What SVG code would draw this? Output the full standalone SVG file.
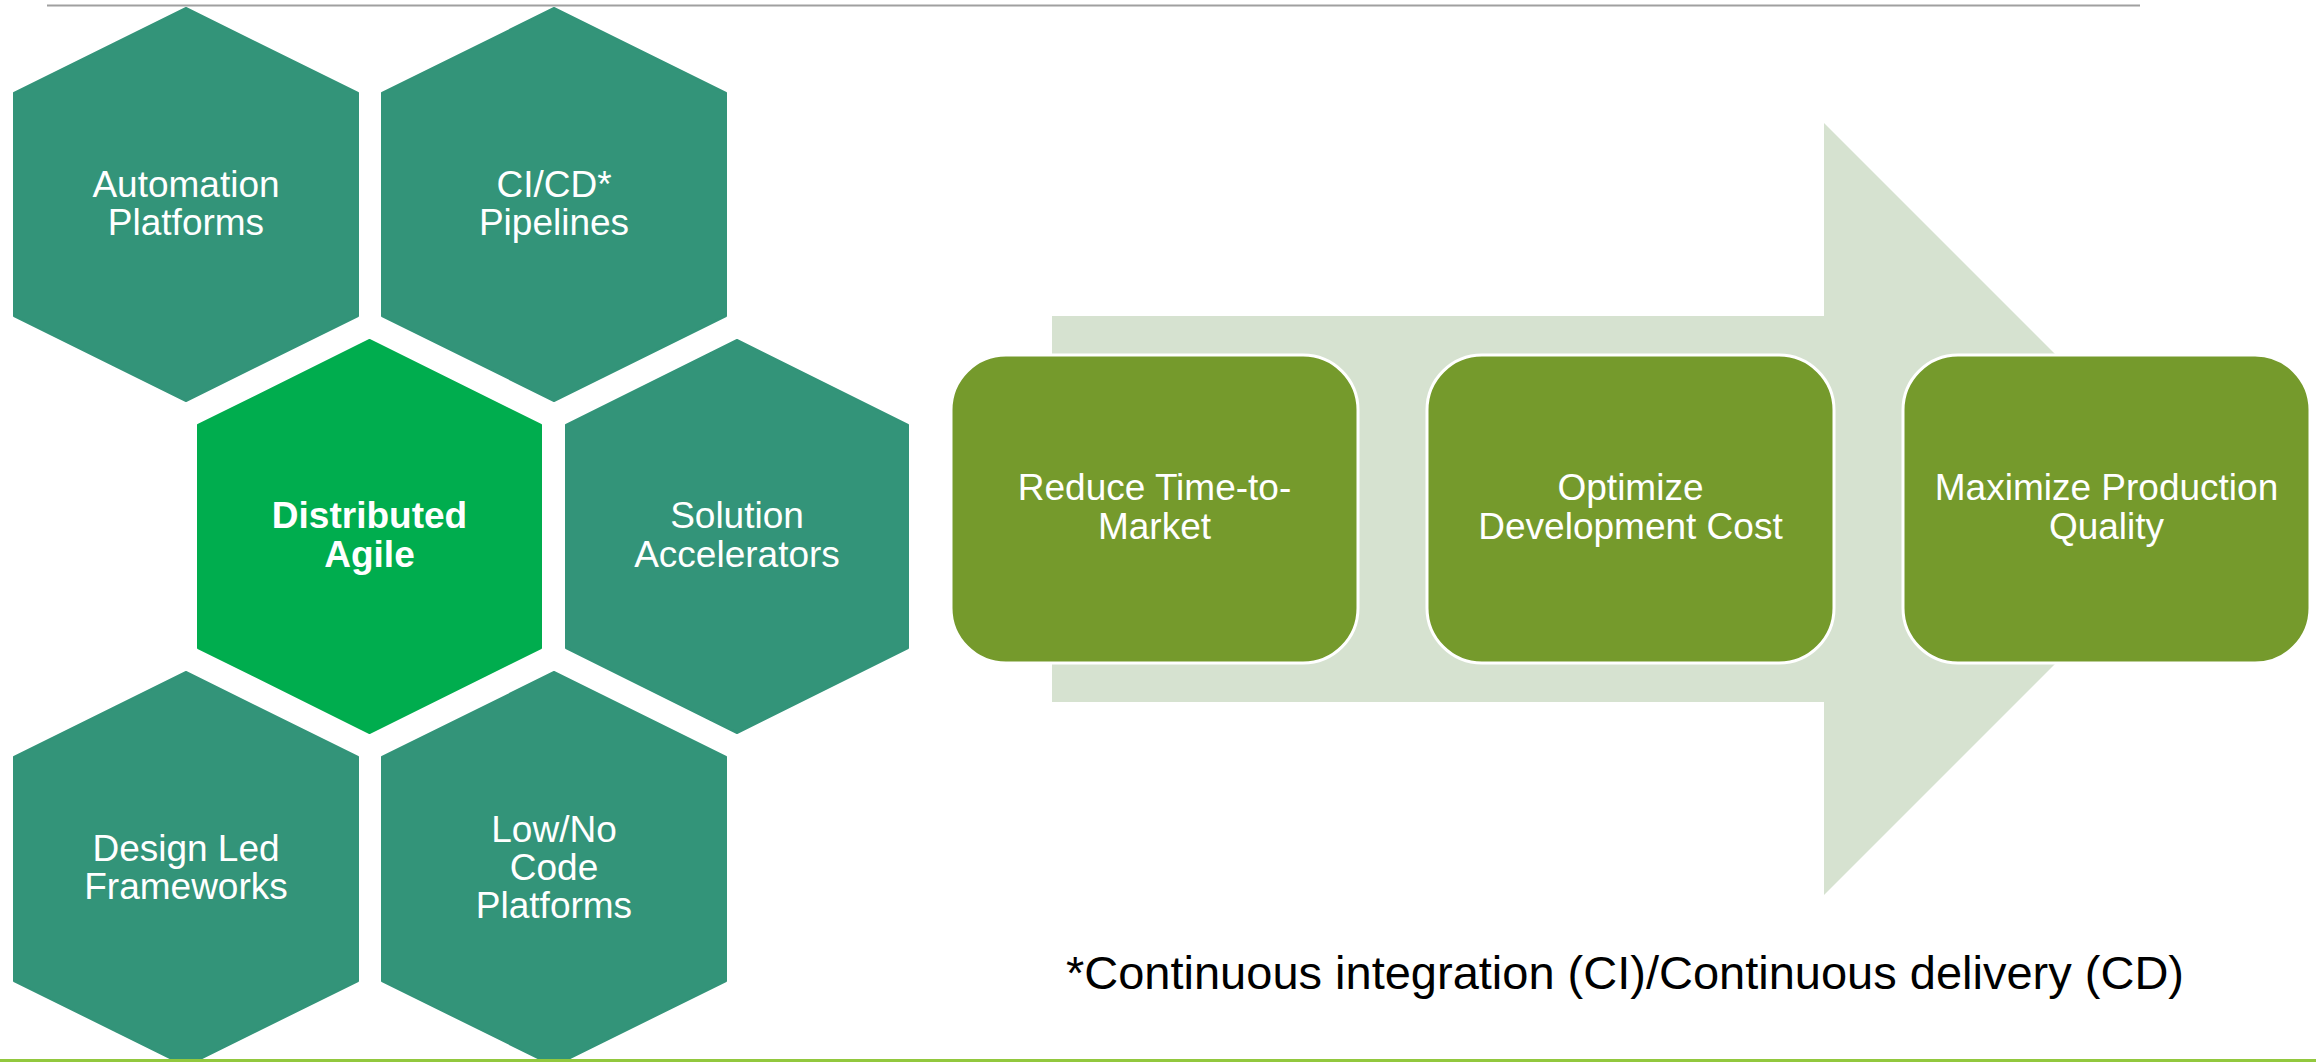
<svg xmlns="http://www.w3.org/2000/svg" width="2316" height="1062" viewBox="0 0 2316 1062">
  <style>
    .hex { fill: #339479; stroke: #339479; stroke-width: 2; stroke-linejoin: round; }
    .hexc { fill: #00AD4E; stroke: #00AD4E; stroke-width: 2; stroke-linejoin: round; }
    .box { fill: #759A2C; stroke: #FFFFFF; stroke-width: 3; }
    .lbl { font-family: "Liberation Sans", Arial, sans-serif; font-size: 37px; fill: #FFFFFF; text-anchor: middle; }
    .bold { font-weight: bold; }
    .note { font-family: "Liberation Sans", Arial, sans-serif; font-size: 47px; fill: #000000; text-anchor: middle; }
  </style>
  <rect x="0" y="0" width="2316" height="1062" fill="#FFFFFF"/>
  <line x1="47" y1="5.5" x2="2140" y2="5.5" stroke="#A0A0A0" stroke-width="2"/>

  <g id="arrow">
    <polygon points="1052,316 1824,316 1824,123 2210,509 1824,895 1824,702 1052,702" fill="#D6E2D0"/>
  </g>

  <g id="hex-automation">
    <polygon class="hex" points="186,8 358,93 358,316 186,401 14,316 14,93"/>
    <text class="lbl" x="186" y="197">Automation</text>
    <text class="lbl" x="186" y="235">Platforms</text>
  </g>
  <g id="hex-cicd">
    <polygon class="hex" points="554,8 726,93 726,316 554,401 382,316 382,93"/>
    <text class="lbl" x="554" y="197">CI/CD*</text>
    <text class="lbl" x="554" y="235">Pipelines</text>
  </g>
  <g id="hex-agile">
    <polygon class="hexc" points="369.5,340 541,425 541,648 369.5,733 198,648 198,425"/>
    <text class="lbl bold" x="369.5" y="528">Distributed</text>
    <text class="lbl bold" x="369.5" y="567">Agile</text>
  </g>
  <g id="hex-solution">
    <polygon class="hex" points="737,340 908,425 908,648 737,733 566,648 566,425"/>
    <text class="lbl" x="737" y="528">Solution</text>
    <text class="lbl" x="737" y="567">Accelerators</text>
  </g>
  <g id="hex-design">
    <polygon class="hex" points="186,672 358,757 358,981 186,1066 14,981 14,757"/>
    <text class="lbl" x="186" y="861">Design Led</text>
    <text class="lbl" x="186" y="899">Frameworks</text>
  </g>
  <g id="hex-lowcode">
    <polygon class="hex" points="554,672 726,757 726,981 554,1066 382,981 382,757"/>
    <text class="lbl" x="554" y="842">Low/No</text>
    <text class="lbl" x="554" y="880">Code</text>
    <text class="lbl" x="554" y="918">Platforms</text>
  </g>

  <g id="box-time">
    <rect class="box" x="951" y="355" width="407" height="308" rx="55" ry="55"/>
    <text class="lbl" x="1154.5" y="500">Reduce Time-to-</text>
    <text class="lbl" x="1154.5" y="539">Market</text>
  </g>
  <g id="box-cost">
    <rect class="box" x="1427" y="355" width="407" height="308" rx="55" ry="55"/>
    <text class="lbl" x="1630.5" y="500">Optimize</text>
    <text class="lbl" x="1630.5" y="539">Development Cost</text>
  </g>
  <g id="box-quality">
    <rect class="box" x="1903" y="355" width="407" height="308" rx="55" ry="55"/>
    <text class="lbl" x="2106.5" y="500">Maximize Production</text>
    <text class="lbl" x="2106.5" y="539">Quality</text>
  </g>

  <g id="connectors"></g>

  <text class="note" x="1625" y="989">*Continuous integration (CI)/Continuous delivery (CD)</text>
  <rect x="0" y="1059" width="2316" height="3" fill="#92C83E"/>
</svg>
